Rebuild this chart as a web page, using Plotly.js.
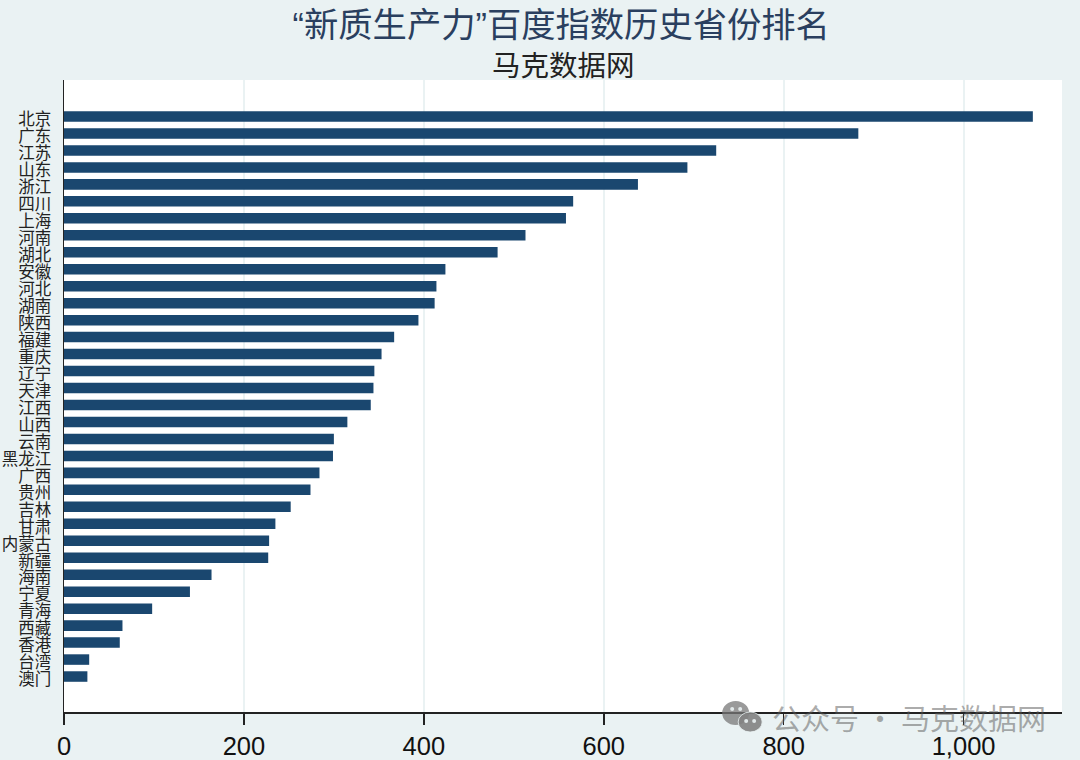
<!DOCTYPE html>
<html><head><meta charset="utf-8">
<script src="https://cdn.plot.ly/plotly-3.0.1.min.js"></script>
<style>html,body{margin:0;padding:0;background:#eaf2f3}</style></head>
<body><div id="chart" style="width:1080px;height:760px"></div>
<script>
const provinces = ["北京","广东","江苏","山东","浙江","四川","上海","河南","湖北","安徽","河北","湖南","陕西","福建","重庆","辽宁","天津","江西","山西","云南","黑龙江","广西","贵州","吉林","甘肃","内蒙古","新疆","海南","宁夏","青海","西藏","香港","台湾","澳门"];
const indexValues = [1077,883,725,693,638,566,558,513,482,424,414,412,394,367,353,345,344,341,315,300,299,284,274,252,235,228,227,164,140,98,65,62,28,26];
const xTicks = [0,200,400,600,800,1000];
const xTickLabels = ["0","200","400","600","800","1,000"];
const titleText = "“新质生产力”百度指数历史省份排名";
const subtitleText = "马克数据网";
const watermarkText = "公众号 · 马克数据网";
const cjk = '"Noto Sans CJK SC","Noto Sans",sans-serif';
const mixed = '"Liberation Sans","Noto Sans CJK SC",sans-serif';
const px = v => (v - 63.5) / 998.5, py = v => (712 - v) / 632;
const dot = (x0,y0,x1,y1,c,l) => ({type:'circle',xref:'paper',yref:'paper',layer:'above',x0:px(x0),x1:px(x1),y0:py(y1),y1:py(y0),fillcolor:c,line:l||{width:0}});
Plotly.newPlot('chart',[{
  type:'bar',orientation:'h',y:provinces,x:indexValues,width:0.62,
  marker:{color:'#1a476f',line:{width:0}},hoverinfo:'x+y'
}],{
  width:1080,height:760,paper_bgcolor:'#eaf2f3',plot_bgcolor:'#ffffff',showlegend:false,
  margin:{l:63.5,r:18,t:80,b:48,pad:0},bargap:0.38,
  title:{text:titleText,font:{family:mixed,size:34.3,color:'#2a3f5f'},x:px(561),xanchor:'center',xref:'paper',y:1-25/760,yref:'container',yanchor:'middle'},
  xaxis:{range:[0,1109.4],tickmode:'array',tickvals:xTicks,ticktext:xTickLabels,ticks:'outside',ticklen:11,tickwidth:1.5,tickcolor:'#222',
    tickfont:{family:'"Liberation Sans",Arial,sans-serif',size:25.5,color:'#111'},showgrid:true,gridcolor:'#eaf2f3',gridwidth:2,showline:true,linecolor:'#222',linewidth:1.5,zeroline:false,fixedrange:true},
  yaxis:{type:'category',categoryorder:'array',categoryarray:provinces,range:[35.09,-2.15],dtick:1,tickmode:'linear',ticks:'outside',ticklen:8,tickwidth:0,tickcolor:'rgba(0,0,0,0)',ticklabelshift:-3,
    tickfont:{family:cjk,size:16.5,color:'#222'},showgrid:false,showline:true,linecolor:'#222',linewidth:1.5,zeroline:false,fixedrange:true},
  annotations:[
    {text:subtitleText,xref:'paper',yref:'paper',x:px(563),y:py(63),xanchor:'center',yanchor:'middle',showarrow:false,font:{family:cjk,size:28.5,color:'#222'}},
    {text:watermarkText,xref:'paper',yref:'paper',x:px(770),y:py(717),xanchor:'left',yanchor:'middle',showarrow:false,font:{family:cjk,size:29,color:'rgba(90,90,90,0.5)'}}
  ],
  shapes:[
    dot(722,701,749,725,'rgba(120,120,120,0.75)'),
    dot(738,712,762,732,'rgba(130,130,130,0.9)',{color:'rgba(234,242,243,0.8)',width:1}),
    dot(730,707,734,711,'rgba(234,242,243,0.9)'),
    dot(738,707,742,711,'rgba(234,242,243,0.9)'),
    dot(744,719,748,723,'rgba(234,242,243,0.9)'),
    dot(752,719,756,723,'rgba(234,242,243,0.9)')
  ]
},{displayModeBar:false,staticPlot:true});
</script></body></html>
